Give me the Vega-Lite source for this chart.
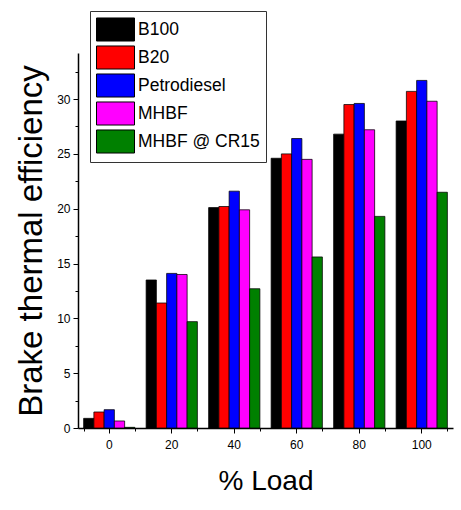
{
  "$schema": "https://vega.github.io/schema/vega-lite/v6.json",
  "width": 375,
  "height": 375,
  "autosize": {"type": "none"},
  "padding": {"left": 78, "top": 53, "right": 8, "bottom": 82},
  "background": "white",
  "config": {
    "view": {"stroke": null},
    "font": "Liberation Sans",
    "axis": {"labelFont": "Liberation Sans", "titleFont": "Liberation Sans", "domainColor": "black", "tickColor": "black", "labelColor": "black", "titleColor": "black", "titleFontWeight": "normal", "grid": false},
    "legend": {"labelFont": "Liberation Sans"}
  },
  "data": {
    "values": [
      {"load": "0", "fuel": "B100", "bte": 0.88},
      {"load": "0", "fuel": "B20", "bte": 1.46},
      {"load": "0", "fuel": "Petrodiesel", "bte": 1.67},
      {"load": "0", "fuel": "MHBF", "bte": 0.64},
      {"load": "0", "fuel": "MHBF @ CR15", "bte": 0.06},
      {"load": "20", "fuel": "B100", "bte": 13.5},
      {"load": "20", "fuel": "B20", "bte": 11.4},
      {"load": "20", "fuel": "Petrodiesel", "bte": 14.1},
      {"load": "20", "fuel": "MHBF", "bte": 14.0},
      {"load": "20", "fuel": "MHBF @ CR15", "bte": 9.7},
      {"load": "40", "fuel": "B100", "bte": 20.1},
      {"load": "40", "fuel": "B20", "bte": 20.2},
      {"load": "40", "fuel": "Petrodiesel", "bte": 21.6},
      {"load": "40", "fuel": "MHBF", "bte": 19.9},
      {"load": "40", "fuel": "MHBF @ CR15", "bte": 12.7},
      {"load": "60", "fuel": "B100", "bte": 24.6},
      {"load": "60", "fuel": "B20", "bte": 25.0},
      {"load": "60", "fuel": "Petrodiesel", "bte": 26.4},
      {"load": "60", "fuel": "MHBF", "bte": 24.5},
      {"load": "60", "fuel": "MHBF @ CR15", "bte": 15.6},
      {"load": "80", "fuel": "B100", "bte": 26.8},
      {"load": "80", "fuel": "B20", "bte": 29.5},
      {"load": "80", "fuel": "Petrodiesel", "bte": 29.6},
      {"load": "80", "fuel": "MHBF", "bte": 27.2},
      {"load": "80", "fuel": "MHBF @ CR15", "bte": 19.3},
      {"load": "100", "fuel": "B100", "bte": 28.0},
      {"load": "100", "fuel": "B20", "bte": 30.7},
      {"load": "100", "fuel": "Petrodiesel", "bte": 31.7},
      {"load": "100", "fuel": "MHBF", "bte": 29.8},
      {"load": "100", "fuel": "MHBF @ CR15", "bte": 21.5}
    ]
  },
  "layer": [
    {
      "mark": {"type": "bar", "stroke": "black", "strokeWidth": 1, "strokeOpacity": 0.75},
      "encoding": {
        "x": {
          "field": "load", "type": "nominal",
          "sort": ["0", "20", "40", "60", "80", "100"],
          "scale": {"paddingInner": 0.18, "paddingOuter": 0.09},
          "axis": {"title": "% Load", "titleFontSize": 28, "titlePadding": 17, "labelAngle": 0, "labelFontSize": 12, "labelPadding": 6, "tickSize": 5, "domainWidth": 1.5, "tickWidth": 1}
        },
        "xOffset": {"field": "fuel", "type": "nominal", "sort": ["B100", "B20", "Petrodiesel", "MHBF", "MHBF @ CR15"], "scale": {"paddingInner": 0, "paddingOuter": 0}},
        "y": {
          "field": "bte", "type": "quantitative",
          "scale": {"domain": [0, 34.2], "nice": false, "zero": true},
          "axis": {"title": "Brake thermal efficiency", "titleFontSize": 33, "titlePadding": 8, "values": [0, 5, 10, 15, 20, 25, 30], "labelFontSize": 12, "labelPadding": 3, "tickSize": 5, "domainWidth": 1.5}
        },
        "color": {
          "field": "fuel", "type": "nominal",
          "scale": {"domain": ["B100", "B20", "Petrodiesel", "MHBF", "MHBF @ CR15"], "range": ["#000000", "#ff0000", "#0000ff", "#ff00ff", "#008000"]},
          "legend": {
            "title": null, "orient": "none", "legendX": 12, "legendY": -42,
            "strokeColor": "#333333", "fillColor": "white", "padding": 6,
            "symbolType": "M-1,-0.96H2.167V0.96H-1Z", "symbolSize": 576,
            "symbolStrokeColor": "black", "symbolStrokeWidth": 1, "symbolOpacity": 1,
            "labelFontSize": 17.5, "labelOffset": 17, "rowPadding": -1, "labelColor": "black"
          }
        }
      }
    },
    {
      "mark": {"type": "bar", "opacity": 0},
      "encoding": {
        "x": {
          "field": "load", "type": "nominal",
          "sort": ["0", "20", "40", "60", "80", "100"],
          "axis": {"title": null, "labels": false, "domain": false, "tickBand": "extent", "tickSize": 3, "orient": "bottom"}
        },
        "y": {
          "field": "bte", "type": "quantitative",
          "axis": {"title": null, "labels": false, "domain": false, "values": [2.5, 7.5, 12.5, 17.5, 22.5, 27.5, 32.5], "tickSize": 3, "orient": "left"}
        }
      }
    }
  ],
  "resolve": {"axis": {"x": "independent", "y": "independent"}}
}
